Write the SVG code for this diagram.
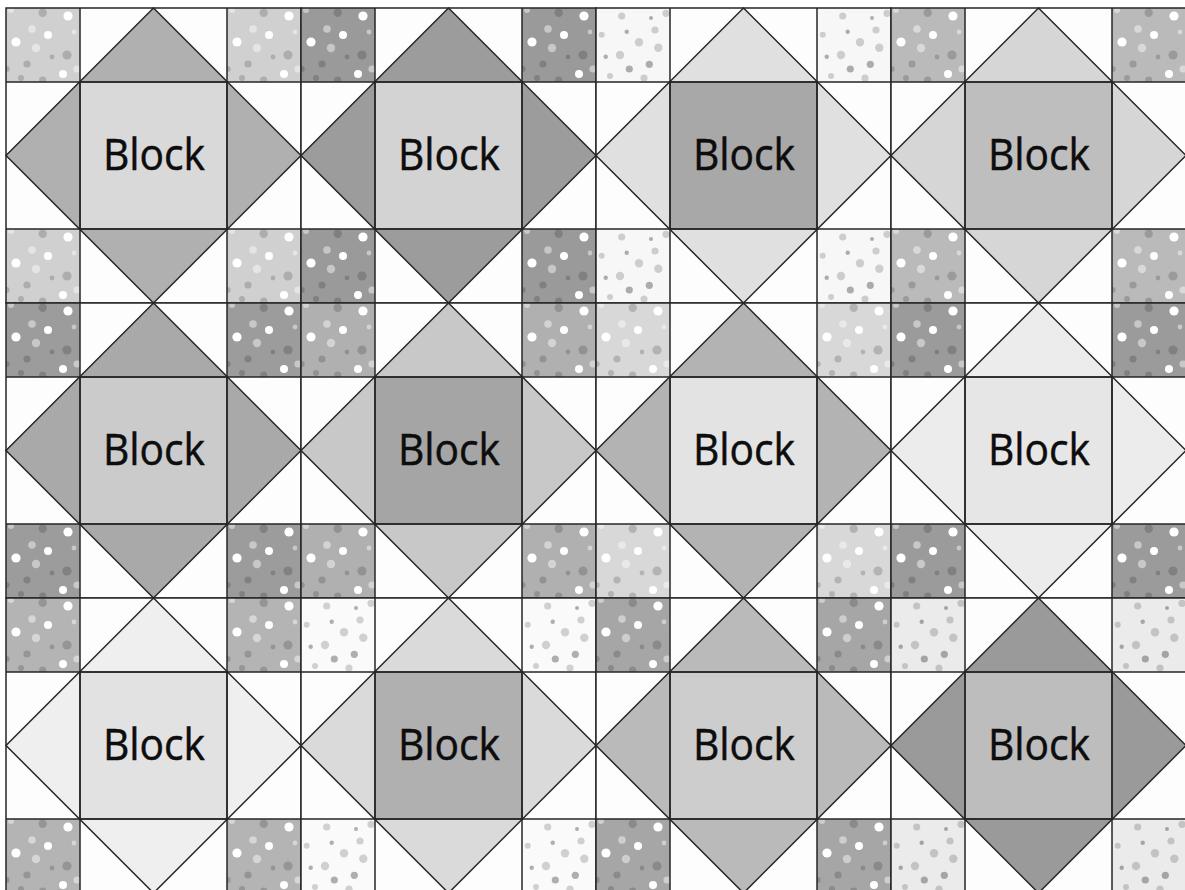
<svg xmlns="http://www.w3.org/2000/svg" xmlns:xlink="http://www.w3.org/1999/xlink" width="1185" height="890" viewBox="0 0 1185 890">
<style>
.bg{fill:#fdfdfd}
.ln{fill:none;stroke:#262626;stroke-width:1.5}
.dm{stroke:#262626;stroke-width:1.5;stroke-linejoin:miter}
.ct{stroke:#262626;stroke-width:1.5}
.lbl{font-family:"Open Sans","Noto Sans","Liberation Sans",sans-serif;font-size:44px;text-anchor:middle;fill:#0d0d0d;stroke:#0d0d0d;stroke-width:0.5}
.w{fill:#fff}
.wl{fill:#fff;fill-opacity:.45}
.dk{fill:#000;fill-opacity:.17}
.g1{fill:#000;fill-opacity:.17}
.g2{fill:#000;fill-opacity:.3}
</style>
<defs>
<clipPath id="sq"><rect width="74" height="74"/></clipPath>
<g id="dotsD" clip-path="url(#sq)">
<circle class="dk" cx="36.7" cy="4.7" r="4.2"/>
<circle class="w" cx="62" cy="8" r="4.6"/>
<circle class="wl" cx="26" cy="21" r="3.8"/>
<circle class="w" cx="42" cy="27" r="4"/>
<circle class="w" cx="10" cy="34" r="4.6"/>
<circle class="wl" cx="30" cy="40" r="4.2"/>
<circle class="dk" cx="61" cy="47" r="4.6"/>
<circle class="dk" cx="46" cy="49" r="2.4"/>
<circle class="dk" cx="21" cy="56" r="3.6"/>
<circle class="wl" cx="71" cy="61" r="3.6"/>
<circle class="dk" cx="15" cy="70" r="3"/>
<circle class="dk" cx="36.7" cy="72" r="3.6"/>
<circle class="wl" cx="68" cy="24" r="2.4"/>
<circle class="dk" cx="0.7" cy="61" r="3"/>
<circle class="w" cx="57" cy="66" r="4"/>
<circle class="wl" cx="5" cy="2" r="3"/>
</g>
<g id="dotsL" clip-path="url(#sq)">
<circle class="g1" cx="25.7" cy="8" r="3.6"/>
<circle class="g1" cx="5.7" cy="26.7" r="3"/>
<circle class="g2" cx="30.7" cy="23.7" r="2.2"/>
<circle class="g1" cx="59" cy="22" r="3.6"/>
<circle class="g1" cx="43" cy="34.3" r="4.2"/>
<circle class="g1" cx="62.3" cy="39.7" r="4.2"/>
<circle class="g1" cx="24" cy="47" r="4.2"/>
<circle class="g2" cx="9.7" cy="48.7" r="2.2"/>
<circle class="g2" cx="53.3" cy="56.3" r="3.6"/>
<circle class="g2" cx="33.3" cy="61" r="3.6"/>
<circle class="g1" cx="48" cy="70" r="3.6"/>
<circle class="g1" cx="70" cy="5.3" r="3.6"/>
<circle class="g2" cx="55" cy="10" r="2"/>
<circle class="g1" cx="14" cy="68" r="3"/>
</g>
<g id="grid">
<path class="ln" d="M74 0V295M221 0V295M0 74H295M0 221H295"/>
<rect class="ln" width="295" height="295"/>
</g>
</defs>
<rect width="1185" height="890" fill="#ffffff"/>

<g id="block-r1c1" transform="translate(6,8)">
<rect class="bg" width="295" height="295"/>
<g fill="#d0d0d0"><rect width="74" height="74"/><rect x="221" width="74" height="74"/><rect y="221" width="74" height="74"/><rect x="221" y="221" width="74" height="74"/></g>
<use href="#dotsD"/><use href="#dotsD" x="221"/><use href="#dotsD" y="221"/><use href="#dotsD" x="221" y="221"/>
<polygon class="dm" points="147.5,0 295,147.5 147.5,295 0,147.5" fill="#b0b0b0"/>
<rect class="ct" x="74" y="74" width="147" height="147" fill="#d9d9d9"/>
<use href="#grid"/>
<text class="lbl" x="148" y="162" textLength="102" lengthAdjust="spacingAndGlyphs">Block</text>
</g>

<g id="block-r1c2" transform="translate(301,8)">
<rect class="bg" width="295" height="295"/>
<g fill="#9a9a9a"><rect width="74" height="74"/><rect x="221" width="74" height="74"/><rect y="221" width="74" height="74"/><rect x="221" y="221" width="74" height="74"/></g>
<use href="#dotsD"/><use href="#dotsD" x="221"/><use href="#dotsD" y="221"/><use href="#dotsD" x="221" y="221"/>
<polygon class="dm" points="147.5,0 295,147.5 147.5,295 0,147.5" fill="#9c9c9c"/>
<rect class="ct" x="74" y="74" width="147" height="147" fill="#d3d3d3"/>
<use href="#grid"/>
<text class="lbl" x="148" y="162" textLength="102" lengthAdjust="spacingAndGlyphs">Block</text>
</g>

<g id="block-r1c3" transform="translate(596,8)">
<rect class="bg" width="295" height="295"/>
<g fill="#f7f7f7"><rect width="74" height="74"/><rect x="221" width="74" height="74"/><rect y="221" width="74" height="74"/><rect x="221" y="221" width="74" height="74"/></g>
<use href="#dotsL"/><use href="#dotsL" x="221"/><use href="#dotsL" y="221"/><use href="#dotsL" x="221" y="221"/>
<polygon class="dm" points="147.5,0 295,147.5 147.5,295 0,147.5" fill="#e0e0e0"/>
<rect class="ct" x="74" y="74" width="147" height="147" fill="#a8a8a8"/>
<use href="#grid"/>
<text class="lbl" x="148" y="162" textLength="102" lengthAdjust="spacingAndGlyphs">Block</text>
</g>

<g id="block-r1c4" transform="translate(891,8)">
<rect class="bg" width="295" height="295"/>
<g fill="#bababa"><rect width="74" height="74"/><rect x="221" width="74" height="74"/><rect y="221" width="74" height="74"/><rect x="221" y="221" width="74" height="74"/></g>
<use href="#dotsD"/><use href="#dotsD" x="221"/><use href="#dotsD" y="221"/><use href="#dotsD" x="221" y="221"/>
<polygon class="dm" points="147.5,0 295,147.5 147.5,295 0,147.5" fill="#d6d6d6"/>
<rect class="ct" x="74" y="74" width="147" height="147" fill="#bebebe"/>
<use href="#grid"/>
<text class="lbl" x="148" y="162" textLength="102" lengthAdjust="spacingAndGlyphs">Block</text>
</g>

<g id="block-r2c1" transform="translate(6,303)">
<rect class="bg" width="295" height="295"/>
<g fill="#9c9c9c"><rect width="74" height="74"/><rect x="221" width="74" height="74"/><rect y="221" width="74" height="74"/><rect x="221" y="221" width="74" height="74"/></g>
<use href="#dotsD"/><use href="#dotsD" x="221"/><use href="#dotsD" y="221"/><use href="#dotsD" x="221" y="221"/>
<polygon class="dm" points="147.5,0 295,147.5 147.5,295 0,147.5" fill="#a9a9a9"/>
<rect class="ct" x="74" y="74" width="147" height="147" fill="#cbcbcb"/>
<use href="#grid"/>
<text class="lbl" x="148" y="162" textLength="102" lengthAdjust="spacingAndGlyphs">Block</text>
</g>

<g id="block-r2c2" transform="translate(301,303)">
<rect class="bg" width="295" height="295"/>
<g fill="#b0b0b0"><rect width="74" height="74"/><rect x="221" width="74" height="74"/><rect y="221" width="74" height="74"/><rect x="221" y="221" width="74" height="74"/></g>
<use href="#dotsD"/><use href="#dotsD" x="221"/><use href="#dotsD" y="221"/><use href="#dotsD" x="221" y="221"/>
<polygon class="dm" points="147.5,0 295,147.5 147.5,295 0,147.5" fill="#c8c8c8"/>
<rect class="ct" x="74" y="74" width="147" height="147" fill="#a5a5a5"/>
<use href="#grid"/>
<text class="lbl" x="148" y="162" textLength="102" lengthAdjust="spacingAndGlyphs">Block</text>
</g>

<g id="block-r2c3" transform="translate(596,303)">
<rect class="bg" width="295" height="295"/>
<g fill="#d8d8d8"><rect width="74" height="74"/><rect x="221" width="74" height="74"/><rect y="221" width="74" height="74"/><rect x="221" y="221" width="74" height="74"/></g>
<use href="#dotsD"/><use href="#dotsD" x="221"/><use href="#dotsD" y="221"/><use href="#dotsD" x="221" y="221"/>
<polygon class="dm" points="147.5,0 295,147.5 147.5,295 0,147.5" fill="#b3b3b3"/>
<rect class="ct" x="74" y="74" width="147" height="147" fill="#e3e3e3"/>
<use href="#grid"/>
<text class="lbl" x="148" y="162" textLength="102" lengthAdjust="spacingAndGlyphs">Block</text>
</g>

<g id="block-r2c4" transform="translate(891,303)">
<rect class="bg" width="295" height="295"/>
<g fill="#9b9b9b"><rect width="74" height="74"/><rect x="221" width="74" height="74"/><rect y="221" width="74" height="74"/><rect x="221" y="221" width="74" height="74"/></g>
<use href="#dotsD"/><use href="#dotsD" x="221"/><use href="#dotsD" y="221"/><use href="#dotsD" x="221" y="221"/>
<polygon class="dm" points="147.5,0 295,147.5 147.5,295 0,147.5" fill="#ececec"/>
<rect class="ct" x="74" y="74" width="147" height="147" fill="#e6e6e6"/>
<use href="#grid"/>
<text class="lbl" x="148" y="162" textLength="102" lengthAdjust="spacingAndGlyphs">Block</text>
</g>

<g id="block-r3c1" transform="translate(6,598)">
<rect class="bg" width="295" height="295"/>
<g fill="#b4b4b4"><rect width="74" height="74"/><rect x="221" width="74" height="74"/><rect y="221" width="74" height="74"/><rect x="221" y="221" width="74" height="74"/></g>
<use href="#dotsD"/><use href="#dotsD" x="221"/><use href="#dotsD" y="221"/><use href="#dotsD" x="221" y="221"/>
<polygon class="dm" points="147.5,0 295,147.5 147.5,295 0,147.5" fill="#efefef"/>
<rect class="ct" x="74" y="74" width="147" height="147" fill="#e2e2e2"/>
<use href="#grid"/>
<text class="lbl" x="148" y="162" textLength="102" lengthAdjust="spacingAndGlyphs">Block</text>
</g>

<g id="block-r3c2" transform="translate(301,598)">
<rect class="bg" width="295" height="295"/>
<g fill="#fafafa"><rect width="74" height="74"/><rect x="221" width="74" height="74"/><rect y="221" width="74" height="74"/><rect x="221" y="221" width="74" height="74"/></g>
<use href="#dotsL"/><use href="#dotsL" x="221"/><use href="#dotsL" y="221"/><use href="#dotsL" x="221" y="221"/>
<polygon class="dm" points="147.5,0 295,147.5 147.5,295 0,147.5" fill="#dadada"/>
<rect class="ct" x="74" y="74" width="147" height="147" fill="#b0b0b0"/>
<use href="#grid"/>
<text class="lbl" x="148" y="162" textLength="102" lengthAdjust="spacingAndGlyphs">Block</text>
</g>

<g id="block-r3c3" transform="translate(596,598)">
<rect class="bg" width="295" height="295"/>
<g fill="#a6a6a6"><rect width="74" height="74"/><rect x="221" width="74" height="74"/><rect y="221" width="74" height="74"/><rect x="221" y="221" width="74" height="74"/></g>
<use href="#dotsD"/><use href="#dotsD" x="221"/><use href="#dotsD" y="221"/><use href="#dotsD" x="221" y="221"/>
<polygon class="dm" points="147.5,0 295,147.5 147.5,295 0,147.5" fill="#bababa"/>
<rect class="ct" x="74" y="74" width="147" height="147" fill="#cdcdcd"/>
<use href="#grid"/>
<text class="lbl" x="148" y="162" textLength="102" lengthAdjust="spacingAndGlyphs">Block</text>
</g>

<g id="block-r3c4" transform="translate(891,598)">
<rect class="bg" width="295" height="295"/>
<g fill="#ebebeb"><rect width="74" height="74"/><rect x="221" width="74" height="74"/><rect y="221" width="74" height="74"/><rect x="221" y="221" width="74" height="74"/></g>
<use href="#dotsL"/><use href="#dotsL" x="221"/><use href="#dotsL" y="221"/><use href="#dotsL" x="221" y="221"/>
<polygon class="dm" points="147.5,0 295,147.5 147.5,295 0,147.5" fill="#9a9a9a"/>
<rect class="ct" x="74" y="74" width="147" height="147" fill="#bdbdbd"/>
<use href="#grid"/>
<text class="lbl" x="148" y="162" textLength="102" lengthAdjust="spacingAndGlyphs">Block</text>
</g>
</svg>
